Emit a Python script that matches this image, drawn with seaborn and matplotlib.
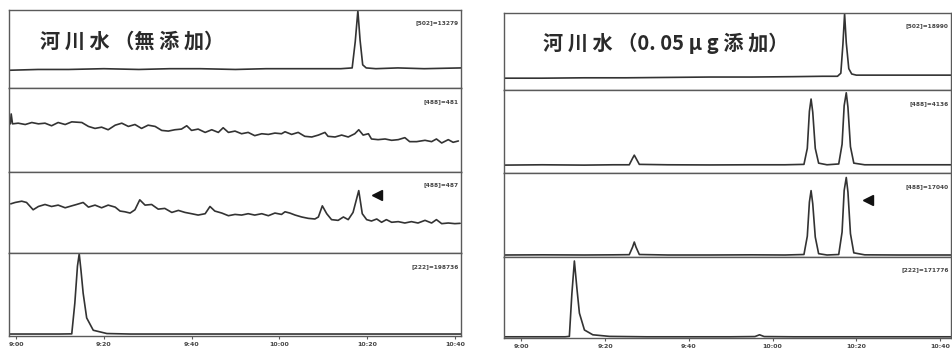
import matplotlib
matplotlib.use("Agg")
import matplotlib.pyplot as plt
import seaborn as sns

# retention time in minutes (540 = 9:00), intensity in % of each strip

# ---- left: river water, no spike ----
left_t1 = [538.6, 545, 552, 560, 568, 575, 582, 590, 597, 604, 610, 614, 616.6, 617.3, 617.9, 618.4, 619.0, 619.8, 622, 627, 633, 641.4]
left_y1 = [23, 24, 24, 25, 24, 25, 25, 24, 25, 25, 25, 25, 26, 60, 100, 62, 30, 26, 25, 26, 25, 26]

left_t2 = [538.7, 538.9, 539.2,
           540.5, 542.1, 543.6, 545.1, 546.6, 548.1, 549.6, 551.2, 552.7, 555.0, 556.5, 558.0, 559.5, 561.0, 562.6,
           564.1, 565.6, 567.1, 568.6, 570.1, 571.7, 573.2, 574.7, 576.2, 577.7, 578.9, 580.0, 581.5, 583.1, 584.6,
           586.1, 587.2, 588.4,
           589.9, 591.4, 592.9, 594.4, 596.0, 597.5, 599.0, 600.5, 601.3, 602.8, 604.3, 605.8, 607.4, 608.9, 610.4,
           611.1, 612.7, 614.2, 615.7, 617.2, 618.1, 619.1, 620.3, 621.0, 622.5, 624.1, 625.6, 627.1, 628.6, 629.7,
           631.3, 633.2, 634.7, 635.8, 637.0, 638.5, 639.6, 640.8]
left_y2 = [57.9, 69.8, 57.9,
           58.7, 57.1, 59.5, 57.9, 58.7, 55.6, 59.5, 57.1, 60.3, 59.5, 54.8, 52.4, 53.9, 50.8, 56.3,
           58.7, 54.8, 57.1, 52.4, 56.3, 54.8, 50.0, 49.2, 50.8, 51.6, 55.6, 50.0, 51.6, 47.6, 50.8,
           47.6, 53.2, 47.6,
           49.2, 46.0, 47.6, 43.7, 46.0, 45.2, 46.8, 46.0, 48.4, 45.2, 47.6, 42.9, 42.1, 44.4, 47.6,
           42.9, 42.1, 44.4, 42.1, 46.0, 50.8, 44.4, 46.0, 39.7, 38.9, 39.7, 38.1, 38.9, 41.3, 36.5,
           36.5, 38.1, 36.5, 39.7, 34.9, 38.9, 35.7, 37.3]

left_t3 = [538.8, 539.8, 541.3, 542.4, 543.9, 545.1, 546.6, 548.1, 549.6, 551.2, 552.7, 553.8, 555.3, 556.5, 558.0,
           559.5, 561.0, 562.6, 563.7, 564.8, 566.0, 567.1, 568.2, 569.4, 570.9, 572.4, 573.9, 575.5, 577.0, 578.5,
           580.0, 581.5, 583.1, 584.2, 585.3, 586.9, 588.4,
           589.9, 591.4, 592.9, 594.4, 596.0, 597.5, 599.0, 600.5, 601.3, 602.4, 603.6, 605.1, 606.6, 608.1, 608.9,
           609.8, 610.8, 611.9, 613.4, 614.6, 615.7, 616.8, 618.1, 618.9, 619.9, 621.0, 622.2, 623.3, 624.4, 625.6,
           627.1, 628.6, 630.1, 631.6, 633.2, 634.7, 635.8, 637.0, 638.5, 640.0, 641.2]
left_y3 = [61.3, 63.0, 64.6, 63.0, 53.9, 58.0, 60.5, 58.0, 59.7, 56.4, 58.8, 60.5, 63.0, 57.2, 59.7,
           56.4, 59.7, 57.2, 52.3, 51.4, 49.8, 53.9, 66.3, 59.7, 60.5, 54.7, 55.6, 50.6, 53.1, 50.6,
           49.0, 47.3, 49.0, 58.0, 52.3, 49.8, 46.5,
           48.1, 47.3, 49.0, 47.3, 49.0, 46.5, 49.8, 48.1, 51.4, 49.8, 47.3, 44.9, 43.2, 42.4, 44.9,
           58.8, 49.0, 41.6, 40.7, 44.9, 41.6, 50.6, 77.8, 49.0, 41.6, 39.9, 42.4, 38.3, 41.6, 38.3,
           39.1, 37.4, 39.1, 37.4, 40.7, 37.4, 41.6, 36.6, 37.4, 36.6, 37.0]

left_t4 = [538.6, 545, 550, 552.7, 553.4, 554.0, 554.4, 554.8, 555.3, 556.1, 557.6, 560.7, 566, 575, 590, 600, 610, 620, 630, 641.4]
left_y4 = [2.4, 2.4, 2.4, 2.6, 40, 85, 100, 80, 52, 22, 7, 3, 2.4, 2.4, 2.4, 2.4, 2.4, 2.4, 2.4, 2.4]

# ---- right: river water, 0.05 ug spiked ----
right_t1 = [535.9, 545, 555, 565, 575, 585, 595, 605, 612, 615.5, 616.3, 616.8, 617.2, 617.6, 618.2, 618.9, 620, 625, 632, 642.6]
right_y1 = [15.5, 15.5, 16, 16, 16.5, 17, 17, 17.5, 18, 18, 22, 60, 100, 62, 28, 21, 19.5, 19.5, 19.5, 19.5]

right_t23 = [535.9, 545, 555, 562, 565.8, 566.6, 567.0, 567.4, 568.2, 575, 585, 595, 603, 607.5, 608.3, 608.8,
             609.2, 609.6, 610.2, 611.0, 613, 615.8, 616.6, 617.1, 617.6, 618.0, 618.6, 619.4, 622, 630, 642.6]
right_y2 = [9.6, 10, 9.6, 10, 10, 18, 21.7, 18, 10.5, 10, 9.8, 10, 10, 10.5, 30, 75,
            90, 74, 30, 12, 10, 11, 35, 82, 97.6, 80, 32, 12, 10, 10, 10]
right_y3 = [2.4, 2.6, 2.4, 2.6, 2.8, 12, 18, 12, 3, 2.4, 2.4, 2.6, 2.4, 3, 25, 66,
            79.8, 64, 24, 4, 2.4, 3, 30, 80, 95.6, 78, 28, 5, 2.6, 2.4, 2.4]

right_t4 = [535.9, 545, 550.5, 551.5, 552.1, 552.7, 553.3, 553.9, 555.1, 557.1, 561.1, 570, 580, 590, 595.8, 596.9, 598, 605, 620, 642.6]
right_y4 = [1.5, 1.5, 1.5, 2, 55, 96, 62, 31, 10, 4, 2, 1.5, 1.5, 1.5, 1.8, 4, 1.8, 1.5, 1.5, 1.5]

# titles are typeset with wide letter spacing in the original
left_title = "河 川 水 （無 添 加）"
right_title = "河 川 水 （0. 05 μ g 添 加）"
left_tags = ["[502]=13279", "[488]=481", "[488]=487", "[222]=198736"]
right_tags = ["[502]=18990", "[488]=4136", "[488]=17040", "[222]=171776"]

tick_pos = [540, 560, 580, 600, 620, 640]
tick_lab = ["9:00", "9:20", "9:40", "10:00", "10:20", "10:40"]

left_arrow = (622.2, 72)
right_arrow = (622.7, 68)

sns.set_style("white")
plt.rcParams['font.family'] = ['Noto Sans CJK JP', 'DejaVu Sans']

W, H = 952, 351
fig = plt.figure(figsize=(W / 100, H / 100), dpi=100)

ink = "#333333"
frame = "#5a5a5a"


def make_panel(x0, x1, ys, xlim, traces, tags, title, title_x, arrow):
    axes = []
    for i in range(4):
        top, bot = ys[i], ys[i + 1]
        ax = fig.add_axes([x0 / W, 1 - bot / H, (x1 - x0) / W, (bot - top) / H])
        t, y = traces[i]
        sns.lineplot(x=t, y=y, ax=ax, color=ink, lw=1.2, estimator=None, sort=False)
        ax.set_xlim(*xlim)
        ax.set_ylim(0, 101)
        ax.set_yticks([])
        ax.set_ylabel("")
        ax.set_xlabel("")
        for s in ax.spines.values():
            s.set_color(frame)
            s.set_linewidth(1.0)
        ax.text(0.995, 0.84, tags[i], transform=ax.transAxes, ha="right", va="center",
                fontsize=4.2, fontweight="bold", color="#444444", family="DejaVu Sans")
        if i < 3:
            ax.set_xticks([])
        else:
            ax.set_xticks(tick_pos)
            ax.set_xticklabels(tick_lab, fontsize=4.5, fontweight="bold", color="#444444",
                               family="DejaVu Sans")
            ax.tick_params(axis="x", length=2, width=0.8, color=frame, pad=2, bottom=True)
        axes.append(ax)
    axes[0].text(title_x, 0.6, title, transform=axes[0].transAxes, ha="left", va="center",
                 fontsize=14.5, fontweight="bold", color="#2a2a2a")
    axes[2].plot([arrow[0]], [arrow[1]], marker="<", ms=7, color="#111111", ls="none")
    return axes


make_panel(9, 461, [10, 88, 172, 253, 336], (538.4, 641.4),
           [(left_t1, left_y1), (left_t2, left_y2), (left_t3, left_y3), (left_t4, left_y4)],
           left_tags, left_title, 0.068, left_arrow)
make_panel(504, 951, [13, 90, 173, 257, 338], (535.9, 642.6),
           [(right_t1, right_y1), (right_t23, right_y2), (right_t23, right_y3), (right_t4, right_y4)],
           right_tags, right_title, 0.088, right_arrow)

fig.savefig("out.png", dpi=100, facecolor="white")
